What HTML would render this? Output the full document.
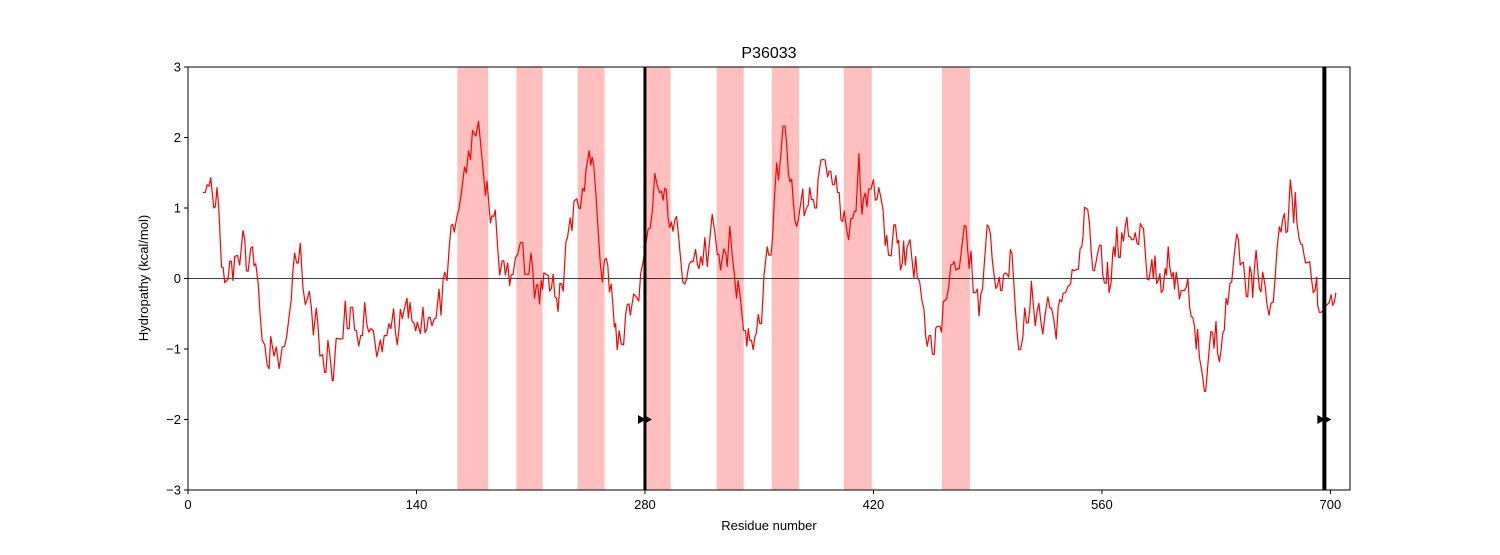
<!DOCTYPE html>
<html><head><meta charset="utf-8"><style>
body{margin:0;background:#fff;}
svg text{font-family:"Liberation Sans","DejaVu Sans",sans-serif;}
</style></head><body>
<svg id="chart" width="1500" height="550" xmlns="http://www.w3.org/2000/svg">
<rect width="1500" height="550" fill="#fff"/>
<g id="bands"></g>
<g id="zero"></g>
<g id="series"></g>
<g id="vlines"></g>
<g id="axes"></g>
<text x="769" y="58" font-size="16" text-anchor="middle">P36033</text>
<text x="769" y="530" font-size="13" text-anchor="middle">Residue number</text>
<text transform="translate(148,278) rotate(-90)" font-size="13" text-anchor="middle">Hydropathy (kcal/mol)</text>
</svg>
<script>
const residues=[9.2,10.6,11.7,12.9,13.9,15.8,16.8,17.8,18.8,20.5,21.5,22.5,24.5,25.6,26.6,27.6,28.6,30.3,31.7,33.7,34.8,35.8,36.8,38.4,39.5,40.5,41.5,43,44,45.4,47,48.5,49.7,50.7,52.7,54.1,55.8,57.8,59.2,60.4,61.9,63.3,64.3,65.3,66.6,67.6,68.8,70.4,71.9,73.1,74.3,75.6,76.8,78.6,79.6,80.8,82.5,83.7,84.5,85.7,87.1,88.4,89,90.8,93.9,94.9,96.3,97.6,98.8,99.6,100.9,102.1,103.2,104.6,105.8,106.9,108.3,109.5,110.7,112,113.6,115.7,116.9,117.9,119,120.2,121.8,123.1,124.3,126,127,128.2,129.3,130.1,131.3,132.5,134.2,135,136,137.3,138.5,139.5,140.5,142.4,144,145.2,146.4,147.3,148.3,149.5,151,152,153.8,155,156.3,157.3,158.7,159.9,161.2,162.2,163.2,164.7,166.1,167.8,169.4,170.5,171.9,173.1,174.3,176.4,178,
180.8,182.2,183.2,185.3,186.3,187.3,188.3,189.7,191,192.5,193.5,194.5,195.9,197.1,198,199.2,200.6,202.1,203.7,205.1,206.4,208.8,210.2,211.3,212.3,213.5,214.3,215.4,216.4,217.3,218.1,219.5,220.8,221.6,222.7,223.7,224.8,225.8,226.8,227.9,228.9,229.9,231.5,232.6,234.2,235.3,236.5,238.2,239.4,240.4,241.8,242.9,243.9,244.9,245.8,246.8,247.6,248.6,250,251.5,252.7,253.9,255.2,256.2,257.2,258.2,259.3,260.3,261.3,262,263,264.2,265.5,266.9,268.2,269.2,270.2,271,273.1,274.7,276.2,277.4,278.8,281.9,283.3,284.5,286,287.6,289,290.1,291.1,292.1,293.1,294.2,295.2,296.2,297.2,298.2,299.3,300.3,301.7,303.2,304.4,305.6,306.9,308.1,309.5,311,312.2,313.2,314.3,315.3,316.7,318.2,319.8,321.2,322.9,324.3,325.3,326.3,327,328.4,329.6,330.4,332,333.5,334.7,336.1,337.1,338.2,339.2,340.4,341.6,342.4,343.3,344.3,345.3,346.3,347.3,348.2,349.4,350.4,351.4,353,354.9,355.9,357.2,
358.1,359.5,360.7,361.8,363.2,364.6,365.8,366.8,367.9,368.9,369.9,370.9,372,373,374,375.1,376.7,377.5,379,380,381,382,383.1,384.1,385.1,386.1,387.8,389.2,390.4,391.9,392.9,393.9,394.9,396,397,398,399,400.1,401.1,402.1,403.6,404.8,406.2,407.2,408.3,409.3,411.1,411.9,413,414,415,416,417.1,418.5,420,421.2,422.2,423.3,424.7,425.9,427.2,428.2,429.2,430.9,432.5,433.5,434.6,435.4,436.6,437.7,438.5,439.5,440.7,442.4,443.6,444.8,445.9,446.9,448.3,449.7,451,452,453,454.1,455.1,456.1,457.2,458.2,459.2,460.7,461.7,462.8,464.8,466.2,467.4,468.5,469.5,470.5,471.6,472.6,474,475.7,476.7,477.7,478.7,479.8,481.2,482.6,483.7,484.7,485.8,486.8,488,489.7,490.7,491.7,492.8,494,495,496,497.1,497.9,498.8,499.8,500.8,501.8,502.9,503.9,504.9,505.9,507,508,509,510.1,511.5,512.7,513.8,514.8,515.8,516.8,517.9,519.1,520.3,521.4,522.4,523.8,525,526.9,528.1,529.1,530.5,532,533.2,534.2,535.3,536.3,537.7,539.2,540.8,541.8,
542.7,544.8,545.6,546.6,547.6,548.4,549.3,551.3,552.4,553.4,554.4,555.4,557.4,558.5,559.5,560.5,561.5,562.6,563.4,564.4,565.6,566.6,567.3,568.1,569.1,570.2,571.2,572.2,573.2,574.3,575.3,576.3,577.4,578.4,579.4,580.4,581.5,582.5,583.5,584.5,585.5,586.6,587.8,588.8,589.8,590.6,591.5,592.5,593.5,594.7,595.5,596.4,597.4,598.8,599.6,600.6,601.6,602.7,603.7,604.5,605.5,606.5,607.5,608.6,610.6,611.7,612.7,613.7,614.7,615.7,616.7,617.8,618.6,619.8,620.8,621.8,622.8,623.6,624.8,626,626.8,627.9,628.7,629.9,630.9,632,633,634,635,636.1,637.1,638.5,639.5,641.2,642.6,643.6,644.7,645.7,646.7,647.7,648.5,649.3,650.6,651.6,652.4,653.4,654.5,655.5,656.5,657.5,658.5,660,661,662.4,663.6,665,666.1,667.3,668.7,669.7,670.8,671.8,672.8,673.8,675.4,676.5,677.5,678.5,679.5,680.8,681.8,682.8,684,684.8,686.5,687.3,688.5,689.5,690.6,691.6,692.2,693.2,694.5,697.5,699.3,700.4,701.4,702.4,703.4];
const hydropathy=[1.22,1.22,1.33,1.31,1.43,1.00,1.02,1.29,1.02,0.16,0.16,-0.06,-0.01,0.25,0.24,-0.03,0.31,0.33,0.19,0.68,0.55,0.11,0.10,0.43,0.45,0.18,0.21,-0.07,-0.45,-0.87,-0.94,-1.23,-1.28,-0.82,-1.10,-0.97,-1.28,-0.97,-0.96,-0.83,-0.55,-0.29,0.11,0.36,0.22,0.22,0.50,-0.12,-0.37,-0.29,-0.18,-0.41,-0.80,-0.42,-0.65,-1.10,-1.08,-1.33,-1.33,-0.88,-1.11,-1.45,-1.45,-0.85,-0.86,-0.85,-0.32,-0.71,-0.71,-0.41,-0.41,-0.73,-0.74,-0.96,-0.81,-0.81,-0.34,-0.64,-0.76,-0.71,-0.74,-1.11,-0.98,-0.87,-1.04,-0.81,-0.81,-0.64,-0.71,-0.43,-0.74,-0.94,-0.73,-0.44,-0.57,-0.44,-0.28,-0.56,-0.34,-0.61,-0.63,-0.74,-0.62,-0.78,-0.41,-0.77,-0.71,-0.55,-0.55,-0.67,-0.57,-0.56,-0.15,-0.52,-0.02,0.09,-0.03,0.40,0.75,0.77,0.66,0.87,1.00,1.26,1.58,1.50,1.81,1.69,2.10,2.02,2.23,
1.54,1.18,1.38,0.79,0.89,0.88,0.97,0.45,0.05,0.25,0.25,0.05,0.22,-0.10,0.05,0.06,0.29,0.35,0.51,0.51,0.06,0.06,0.36,0.13,-0.28,-0.10,-0.08,-0.36,-0.03,-0.15,0.08,0.06,0.04,-0.18,-0.14,0.06,-0.26,-0.28,-0.47,-0.07,-0.08,-0.18,0.51,0.59,0.86,0.68,1.10,1.13,1.00,0.99,1.28,1.24,1.54,1.68,1.81,1.61,1.72,1.61,1.18,0.62,0.19,-0.05,0.26,0.29,0.19,-0.19,-0.08,-0.36,-0.69,-0.64,-1.01,-0.74,-0.93,-0.94,-0.50,-0.37,-0.36,-0.52,-0.22,-0.26,-0.32,0.07,0.23,0.70,0.72,0.95,1.49,1.31,1.22,1.24,1.11,1.28,1.26,0.86,0.72,0.80,0.67,0.82,0.88,0.68,0.31,-0.05,-0.08,0.00,0.19,0.24,0.24,0.41,0.19,0.14,0.31,0.19,0.58,0.17,0.58,0.91,0.64,0.34,0.34,0.12,0.24,0.42,0.35,0.17,0.74,0.31,0.08,-0.28,-0.03,-0.22,-0.45,-0.73,-0.74,-0.96,-0.71,-0.88,-0.88,-1.01,-0.83,-0.78,-0.51,-0.64,-0.64,0.06,0.45,0.33,0.33,
0.55,1.21,1.64,1.40,1.73,2.16,2.16,1.92,1.49,1.37,1.41,1.09,0.81,0.74,0.83,1.02,1.27,0.89,1.00,1.04,1.29,1.12,1.12,1.00,1.00,1.41,1.68,1.69,1.68,1.44,1.52,1.52,1.33,1.33,1.46,1.22,1.22,0.83,0.81,0.96,0.69,0.55,0.85,0.85,0.95,0.95,1.77,1.33,0.91,1.14,1.21,1.02,1.27,1.27,1.40,1.11,1.12,1.29,1.13,0.97,0.47,0.61,0.33,0.32,0.76,0.76,0.50,0.54,0.12,0.22,0.53,0.19,0.45,0.55,0.27,0.01,0.31,0.01,-0.04,-0.31,-0.44,-0.82,-0.96,-0.81,-0.81,-1.07,-1.08,-0.70,-0.68,-0.68,-0.76,-0.33,-0.29,-0.11,0.19,0.20,0.24,0.12,0.14,0.14,0.42,0.75,0.74,0.42,0.14,0.39,-0.20,-0.20,-0.15,-0.53,-0.22,-0.15,0.23,0.76,0.73,0.63,0.27,0.04,-0.14,-0.10,0.02,-0.17,-0.17,0.06,0.08,0.06,0.02,0.41,0.35,-0.01,-0.44,-0.77,-1.01,-1.01,-0.84,-0.42,-0.63,-0.63,-0.44,-0.04,-0.35,-0.67,-0.46,-0.35,-0.58,-0.79,-0.54,-0.26,-0.42,-0.42,-0.58,-0.86,-0.41,-0.30,-0.33,-0.21,-0.20,-0.11,-0.08,0.13,
0.11,0.13,0.13,0.42,0.45,0.59,1.01,0.98,0.78,0.40,0.12,0.11,0.36,0.47,0.47,0.06,-0.06,-0.07,0.23,-0.20,-0.06,0.36,0.45,0.31,0.73,0.30,0.30,0.65,0.53,0.74,0.87,0.60,0.59,0.55,0.55,0.65,0.50,0.48,0.78,0.73,0.71,0.36,-0.01,-0.02,0.13,0.27,0.00,0.32,-0.07,-0.02,0.07,-0.20,-0.16,0.14,0.05,0.45,0.16,0.02,0.09,-0.15,0.09,-0.06,-0.29,-0.17,-0.17,-0.12,0.00,-0.40,-0.54,-0.55,-0.68,-1.00,-0.72,-1.13,-1.25,-1.41,-1.60,-1.60,-1.25,-0.94,-0.75,-0.77,-0.99,-0.61,-1.06,-1.18,-1.01,-0.78,-0.73,-0.28,-0.37,-0.07,-0.05,0.36,0.63,0.55,0.19,0.22,0.23,-0.02,-0.26,-0.26,0.17,0.07,-0.27,0.12,0.40,0.12,-0.14,-0.19,0.09,-0.10,-0.35,-0.52,-0.35,-0.33,0.01,0.41,0.73,0.66,0.84,0.92,0.65,0.67,1.40,1.17,0.79,1.22,0.79,0.57,0.49,0.48,0.31,0.22,0.23,0.24,-0.02,-0.20,-0.16,0.02,-0.38,-0.48,-0.48,-0.38,-0.34,-0.23,-0.38,-0.34,-0.20];
const bandStarts=[165,201.2,238.7,279.8,323.9,357.7,401.8,462];
const bandEnds=[184,217.2,255.2,295.7,340.5,374.5,419,479.1];
const markerResidues=[280,696.3];
const xTicks=[0,140,280,420,560,700];
const yTicks=[-3,-2,-1,0,1,2,3];
const yTickLabels=["\u22123","\u22122","\u22121","0","1","2","3"];

const L=188,R=1350,T=67,B=490,XMIN=0,XMAX=(1350-188)/1.632,YMIN=-3,YMAX=3;
const xs=v=>L+(v-XMIN)/(XMAX-XMIN)*(R-L);
const ys=v=>B-(v-YMIN)/(YMAX-YMIN)*(B-T);
const NS="http://www.w3.org/2000/svg";
function mk(tag,parent,attrs){const e=document.createElementNS(NS,tag);for(const k in attrs)e.setAttribute(k,attrs[k]);parent.appendChild(e);return e;}

const gb=document.getElementById('bands');
bandStarts.forEach((s,i)=>{
  const r=mk('rect',gb,{x:xs(s),y:T,width:xs(bandEnds[i])-xs(s),height:B-T,fill:'#ffbfbf'});
  
  
});
const z=mk('line',document.getElementById('zero'),{x1:L,x2:R,y1:ys(0),y2:ys(0),stroke:'#000','stroke-width':0.8});



const pts=residues.map((r,i)=>xs(r).toFixed(1)+','+ys(hydropathy[i]).toFixed(1)).join(' ');
const pl=mk('polyline',document.getElementById('series'),{points:pts,fill:'none',stroke:'#ff0000','stroke-width':1.2,'stroke-linejoin':'round'});



const gv=document.getElementById('vlines');
markerResidues.forEach((m,i)=>{
  const ln=mk('line',gv,{x1:xs(m),x2:xs(m),y1:T,y2:B,stroke:'#000','stroke-width':i===0?3:4});
  
  
  const cx=xs(m),cy=ys(-2);
  const tri=mk('path',gv,{d:`M${cx-7},${cy-4.5}L${cx+1},${cy}L${cx-7},${cy+4.5}Z M${cx-1},${cy-4.5}L${cx+7},${cy}L${cx-1},${cy+4.5}Z`,fill:'#000'});
  
  
});

const ga=document.getElementById('axes');
const fr=mk('rect',ga,{x:L,y:T,width:R-L,height:B-T,fill:'none',stroke:'#000','stroke-width':1});


xTicks.forEach(t=>{
  const x=xs(t);
  const tk=mk('line',ga,{x1:x,x2:x,y1:B,y2:B+4,stroke:'#000'});
  
  
  const tx=mk('text',ga,{x:x,y:B+19,'font-size':13,'text-anchor':'middle'});
  tx.textContent=String(t);
  
  
});
yTicks.forEach((t,i)=>{
  const y=ys(t);
  const tk=mk('line',ga,{x1:L-4,x2:L,y1:y,y2:y,stroke:'#000'});
  
  
  const tx=mk('text',ga,{x:L-7,y:y+4.5,'font-size':13,'text-anchor':'end'});
  tx.textContent=yTickLabels[i];
  
  
});
</script>
</body></html>
